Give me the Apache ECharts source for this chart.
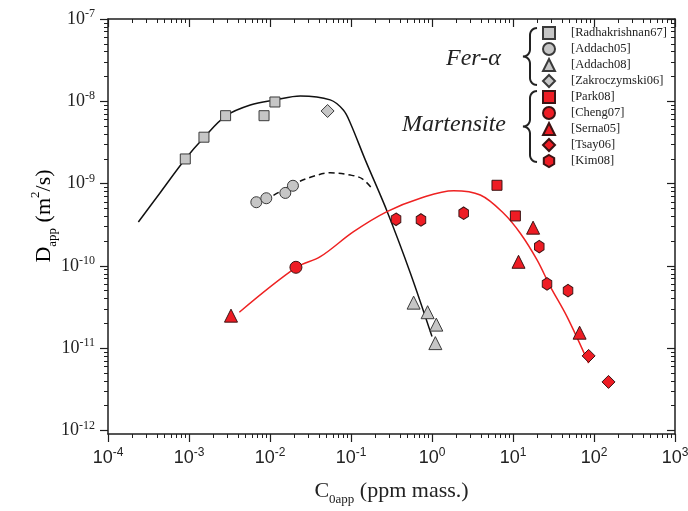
<!DOCTYPE html>
<html>
<head>
<meta charset="utf-8">
<script src="https://cdn.jsdelivr.net/npm/echarts@6/dist/echarts.min.js"></script>
<style>html,body{margin:0;padding:0;background:#fff}#c{width:688px;height:511px}</style>
</head>
<body>
<div id="c"></div>
<script>
// ---- data ----
const xTickValues = [1e-4, 1e-3, 1e-2, 1e-1, 1e0, 1e1, 1e2, 1e3];
const yTickValues = [1e-12, 1e-11, 1e-10, 1e-9, 1e-8, 1e-7];

const radX = [9.0e-4, 1.53e-3, 2.83e-3, 8.44e-3, 1.15e-2];
const radY = [1.99e-9, 3.66e-9, 6.68e-9, 6.68e-9, 9.8e-9];
const addach05X = [6.78e-3, 9.0e-3, 1.545e-2, 1.92e-2];
const addach05Y = [5.93e-10, 6.63e-10, 7.69e-10, 9.4e-10];
const addach08X = [0.593, 0.883, 1.13, 1.10];
const addach08Y = [3.57e-11, 2.73e-11, 1.93e-11, 1.15e-11];
const zakX = [0.0514];
const zakY = [7.62e-9];
const parkX = [6.34, 10.7];
const parkY = [9.53e-10, 4.04e-10];
const chengX = [0.0209];
const chengY = [9.6e-11];
const sernaX = [3.30e-3, 11.7, 17.7, 66.4];
const sernaY = [2.48e-11, 1.12e-10, 2.91e-10, 1.54e-11];
const tsayX = [85.8, 151];
const tsayY = [8.04e-12, 3.88e-12];
const kimX = [0.36, 0.731, 2.46, 21.1, 26.3, 47.8];
const kimY = [3.68e-10, 3.61e-10, 4.36e-10, 1.71e-10, 6.03e-11, 5.0e-11];

const ferFitX = [2.37e-4, 4.43e-4, 9.0e-4, 1.53e-3, 2.83e-3, 5.71e-3, 0.0116, 0.0237, 0.0554, 0.0804, 0.098, 0.150, 0.281, 0.540, 1.0];
const ferFitY = [3.41e-10, 7.8e-10, 1.99e-9, 3.63e-9, 6.62e-9, 9.0e-9, 1.04e-8, 1.16e-8, 1.04e-8, 7.84e-9, 5.45e-9, 1.94e-9, 4.52e-10, 8.2e-11, 1.38e-11];
const addachFitX = [6.59e-3, 0.0101, 0.0188, 0.0315, 0.0554, 0.098, 0.138, 0.188];
const addachFitY = [5.65e-10, 6.87e-10, 9.62e-10, 1.19e-9, 1.35e-9, 1.27e-9, 1.14e-9, 8.36e-10];
const martFitX = [4.18e-3, 0.0211, 0.0418, 0.1076, 0.278, 0.718, 1.85, 3.95, 7.65, 12.3, 19.8, 28.9, 46.4, 85.8];
const martFitY = [2.73e-11, 9.57e-11, 1.29e-10, 2.6e-10, 4.56e-10, 6.63e-10, 8.2e-10, 7.27e-10, 4.36e-10, 2.49e-10, 1.18e-10, 5.59e-11, 2.41e-11, 6.56e-12];

// ---- helpers ----
const zip = (a, b) => a.map((v, i) => [v, b[i]]);
// minor tick positions in log10 space (m = 2..9 within each decade)
const minorLog = (lo, hi) => { const r = []; for (let e = lo; e < hi; e++) for (let m = 2; m <= 9; m++) r.push(e + Math.log10(m)); return r; };
const xMinor = minorLog(-4, 3);
const yMinor = minorLog(-12, -7);
const pow = v => Math.round(Math.log10(v));

const GRAY = '#c6c6c6', GRAYB = '#3a3a3a', RED = '#ee1c24', REDB = '#3a1414';
const HEX = 'path://M0,-10 L8.66,-5 L8.66,5 L0,10 L-8.66,5 L-8.66,-5 Z';
const serif = 'Liberation Serif', sans = 'Liberation Sans';

function scat(name, xs, ys, symbol, size, fill, border, extra) {
  return Object.assign({
    name, type: 'scatter', data: zip(xs, ys), symbol, symbolSize: size,
    xAxisIndex: 0, yAxisIndex: 0, z: 5,
    itemStyle: { color: fill, borderColor: border, borderWidth: 1, opacity: 1 }
  }, extra || {});
}
function curve(name, xs, ys, color, type) {
  return { name, type: 'line', data: zip(xs, ys), smooth: 0.35, showSymbol: false, symbol: 'none',
    xAxisIndex: 0, yAxisIndex: 0, z: 3, silent: true,
    lineStyle: { color, width: 1.5, type: type || 'solid' } };
}
// curly brace decoration (annotation, not data)
function brace(x, top, bot) {
  const pts = [];
  const mid = (top + bot) / 2, r = 7;
  const arc = (cx, cy, a0, a1) => { for (let i = 0; i <= 8; i++) { const a = a0 + (a1 - a0) * i / 8; pts.push([cx + r * Math.cos(a), cy + r * Math.sin(a)]); } };
  arc(x + r, top + r, -Math.PI / 2, -Math.PI);
  arc(x - r, mid - r, 0, Math.PI / 2);
  arc(x - r, mid + r, -Math.PI / 2, 0);
  arc(x + r, bot - r, Math.PI, Math.PI / 2);
  return { type: 'polyline', shape: { points: pts }, style: { fill: null, stroke: '#222', lineWidth: 2 }, z: 10 };
}

const lineCol = '#1e1e1e';
const yMinLog = -12.044;
const noLine = { show: false, onZero: false };
const frameLine = { show: true, onZero: false, lineStyle: { color: lineCol, width: 1.5 } };
const baseX = { type: 'log', logBase: 10, min: 1e-4, max: 1e3, gridIndex: 0, splitLine: { show: false }, minorTick: { show: false } };
const baseY = { type: 'log', logBase: 10, min: Math.pow(10, yMinLog), max: 1e-7, gridIndex: 0, splitLine: { show: false }, minorTick: { show: false } };
const minorX = { type: 'value', min: -4, max: 3, gridIndex: 0, splitLine: { show: false }, axisLine: noLine, axisLabel: { show: false } };
const minorY = { type: 'value', min: yMinLog, max: -7, gridIndex: 0, splitLine: { show: false }, axisLine: noLine, axisLabel: { show: false } };

const titleRich = {
  c: { fontFamily: serif, fontSize: 22, color: '#222', lineHeight: 30 },
  sub: { fontFamily: serif, fontSize: 13, color: '#222', lineHeight: 30, verticalAlign: 'bottom' },
  sup: { fontFamily: serif, fontSize: 13, color: '#222', lineHeight: 30, verticalAlign: 'top' }
};

const option = {
  animation: false,
  backgroundColor: '#fff',
  grid: { left: 108, right: 13, top: 19, bottom: 77, containLabel: false, outerBoundsMode: 'none' },
  xAxis: [
    Object.assign({}, baseX, {
      position: 'bottom',
      axisLine: frameLine,
      axisTick: { show: true, inside: false, length: 8, customValues: xTickValues, lineStyle: { color: lineCol, width: 1.2 } },
      axisLabel: { show: true, customValues: xTickValues, margin: 13,
        formatter: v => '{b|10}{s|' + pow(v) + '}',
        rich: { b: { fontFamily: sans, fontSize: 18, color: '#222', lineHeight: 22 },
                s: { fontFamily: sans, fontSize: 12, color: '#222', lineHeight: 12, verticalAlign: 'top' } } },
      name: '{c|C}{sub|0app}{c| (ppm mass.)}', nameLocation: 'middle', nameGap: 42,
      nameTextStyle: { rich: titleRich }
    }),
    Object.assign({}, minorX, { position: 'bottom',
      axisTick: { show: true, inside: false, length: 4, customValues: xMinor, lineStyle: { color: lineCol, width: 1 } } }),
    Object.assign({}, baseX, {
      position: 'top',
      axisLine: frameLine,
      axisTick: { show: true, inside: true, length: 8, customValues: xTickValues, lineStyle: { color: lineCol, width: 1.2 } },
      axisLabel: { show: false }
    }),
    Object.assign({}, minorX, { position: 'top',
      axisTick: { show: true, inside: true, length: 4, customValues: xMinor, lineStyle: { color: lineCol, width: 1 } } })
  ],
  yAxis: [
    Object.assign({}, baseY, {
      position: 'left',
      axisLine: frameLine,
      axisTick: { show: true, inside: false, length: 8, customValues: yTickValues, lineStyle: { color: lineCol, width: 1.2 } },
      axisLabel: { show: true, customValues: yTickValues, margin: 13,
        formatter: v => '{b|10}{s|' + pow(v) + '}',
        rich: { b: { fontFamily: serif, fontSize: 18, color: '#222', lineHeight: 22 },
                s: { fontFamily: serif, fontSize: 12, color: '#222', lineHeight: 12, verticalAlign: 'top' } } }
    }),
    Object.assign({}, minorY, { position: 'left',
      axisTick: { show: true, inside: false, length: 4, customValues: yMinor, lineStyle: { color: lineCol, width: 1 } } }),
    Object.assign({}, baseY, {
      position: 'right',
      axisLine: frameLine,
      axisTick: { show: true, inside: true, length: 8, customValues: yTickValues, lineStyle: { color: lineCol, width: 1.2 } },
      axisLabel: { show: false }
    }),
    Object.assign({}, minorY, { position: 'right',
      axisTick: { show: true, inside: true, length: 4, customValues: yMinor, lineStyle: { color: lineCol, width: 1 } } })
  ],
  legend: {
    orient: 'vertical', left: 537, top: 20, itemWidth: 12, itemHeight: 12, itemGap: 0,
    data: ['[Radhakrishnan67]', '[Addach05]', '[Addach08]', '[Zakroczymski06]', '[Park08]', '[Cheng07]', '[Serna05]', '[Tsay06]', '[Kim08]'],
    textStyle: { fontFamily: serif, fontSize: 12.5, color: '#222', lineHeight: 16, padding: [0, 0, 0, 11] },
    selectedMode: false
  },
  series: [
    curve('fitFer', ferFitX, ferFitY, '#111', 'solid'),
    curve('fitAddach', addachFitX, addachFitY, '#111', [6, 4]),
    curve('fitMart', martFitX, martFitY, '#ee2222', 'solid'),
    scat('[Radhakrishnan67]', radX, radY, 'rect', 10, GRAY, GRAYB),
    scat('[Addach05]', addach05X, addach05Y, 'circle', 11, GRAY, GRAYB),
    scat('[Addach08]', addach08X, addach08Y, 'triangle', 13, GRAY, GRAYB),
    scat('[Zakroczymski06]', zakX, zakY, 'diamond', 13, GRAY, GRAYB),
    scat('[Park08]', parkX, parkY, 'rect', 10, RED, REDB),
    scat('[Cheng07]', chengX, chengY, 'circle', 12, RED, REDB),
    scat('[Serna05]', sernaX, sernaY, 'triangle', 13, RED, REDB),
    scat('[Tsay06]', tsayX, tsayY, 'diamond', 13, RED, REDB),
    scat('[Kim08]', kimX, kimY, HEX, [11, 12.5], RED, REDB, { symbolKeepAspect: true })
  ],
  graphic: [
    { type: 'text', x: 44, y: 216, rotation: Math.PI / 2,
      style: { text: '{c|D}{sub|app}{c| (m}{sup|2}{c|/s)}', rich: titleRich, align: 'center', verticalAlign: 'middle' } },
    { type: 'text', x: 446, y: 47, style: { text: 'Fer-α', font: 'italic 24px "Liberation Serif"', fill: '#222' } },
    { type: 'text', x: 402, y: 113, style: { text: 'Martensite', font: 'italic 24px "Liberation Serif"', fill: '#222' } },
    brace(530, 28, 85),
    brace(530, 91, 162)
  ]
};
const chart = echarts.init(document.getElementById('c'), null, { renderer: 'canvas' });
chart.setOption(option);
</script>
</body>
</html>
